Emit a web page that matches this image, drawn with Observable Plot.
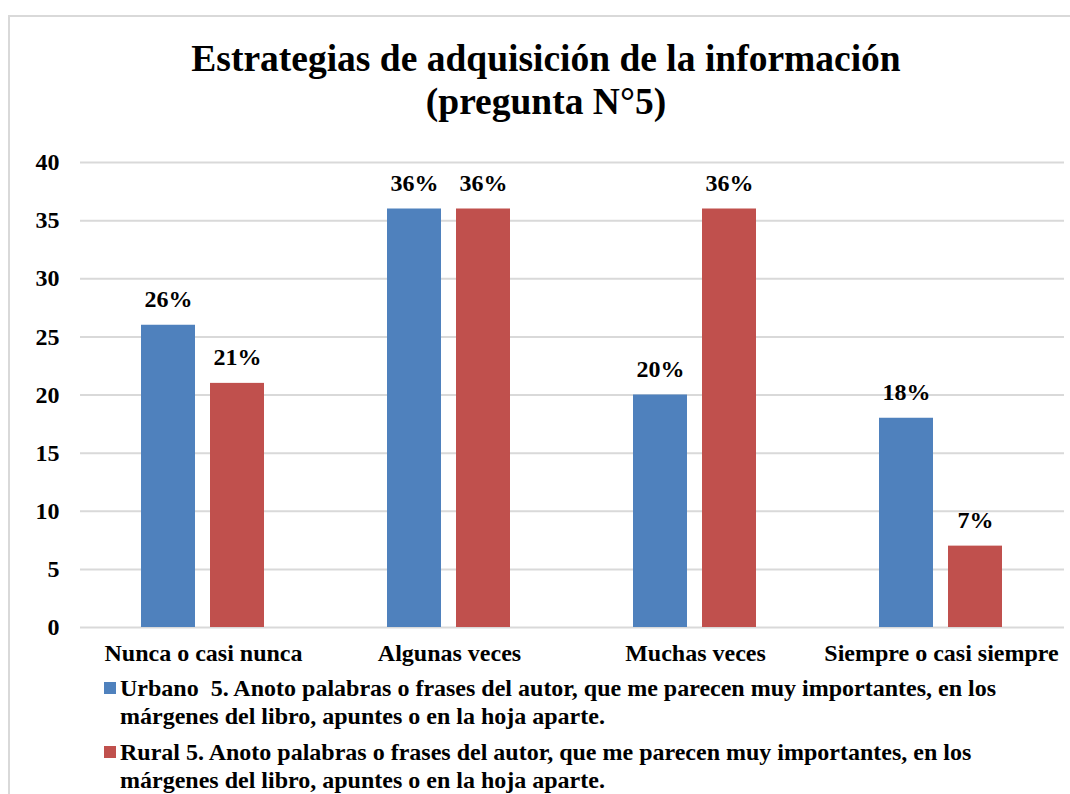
<!DOCTYPE html>
<html>
<head>
<meta charset="utf-8">
<script src="https://cdn.jsdelivr.net/npm/d3@7"></script>
<script src="https://cdn.jsdelivr.net/npm/@observablehq/plot@0.6"></script>
<style>
  html, body { margin: 0; padding: 0; background: #fff; overflow: hidden; width: 1070px; height: 794px; }
  #wrap { position: relative; width: 1070px; height: 794px; font-family: "Liberation Serif", "Times New Roman", serif; font-weight: bold; color: #000; }
  #border { position: absolute; left: 8px; top: 15px; width: 1100px; height: 900px; border: 2px solid #d9d9d9; box-sizing: border-box; }
  #title { position: absolute; left: 0; top: 37px; width: 1092px; text-align: center; font-size: 37.5px; line-height: 43px; }
  #chart { position: absolute; left: 0; top: 140px; }
  .leg { position: absolute; left: 104px; font-size: 24px; line-height: 28px; }
  .leg .sw { position: absolute; left: 0; top: 8px; width: 12px; height: 12px; }
  .leg .tx { margin-left: 16px; white-space: nowrap; }
</style>
</head>
<body>
<div id="wrap">
  <div id="border"></div>
  <div id="title">Estrategias de adquisición de la información<br>(pregunta N°5)</div>
  <div id="chart"></div>
  <div class="leg" id="leg1" style="top:674px"></div>
  <div class="leg" id="leg2" style="top:738px"></div>
</div>
<script>
const categories = ["Nunca o casi nunca", "Algunas veces", "Muchas veces", "Siempre o casi siempre"];
const series = ["Urbano", "Rural"];
const urbano = [26, 36, 20, 18];
const rural = [21, 36, 36, 7];
const colors = ["#4F81BD", "#C0504D"];
const yTicks = [0, 5, 10, 15, 20, 25, 30, 35, 40];
const legendLines = [
  ["Urbano\u00a0 5. Anoto palabras o frases del autor, que me parecen muy importantes, en los", "márgenes del libro, apuntes o en la hoja aparte."],
  ["Rural 5. Anoto palabras o frases del autor, que me parecen muy importantes, en los", "márgenes del libro, apuntes o en la hoja aparte."]
];

const data = [];
categories.forEach((c, i) => {
  data.push({cat: c, serie: series[0], v: urbano[i]});
  data.push({cat: c, serie: series[1], v: rural[i]});
});

const chart = Plot.plot({
  width: 1070,
  height: 527,
  marginTop: 22,
  marginBottom: 40,
  marginLeft: 78,
  marginRight: 5,
  style: {fontFamily: "Liberation Serif, Times New Roman, serif", fontSize: "24px", fontWeight: "bold", color: "#000", background: "transparent", overflow: "visible"},
  fx: {domain: categories, padding: 0, label: null, tickSize: 0, tickPadding: 16, axis: "bottom"},
  x: {domain: series, paddingInner: 0.214, paddingOuter: 0.87, axis: null},
  y: {domain: [0, 40], ticks: yTicks, label: null, tickSize: 0, tickPadding: 21, grid: false},
  color: {domain: series, range: colors},
  marks: [
    Plot.ruleY(yTicks, {stroke: "#d9d9d9", strokeWidth: 2}),
    Plot.barY(data, {fx: "cat", x: "serie", y: "v", fill: "serie"}),
    Plot.text(data, {fx: "cat", x: "serie", y: "v", text: d => d.v + "%", dy: -26, fontSize: 24, fontWeight: "bold", fill: "#000"})
  ]
});
document.getElementById("chart").appendChild(chart);

[["leg1", 0], ["leg2", 1]].forEach(([id, i]) => {
  const el = document.getElementById(id);
  const sw = document.createElement("div");
  sw.className = "sw";
  sw.style.background = colors[i];
  el.appendChild(sw);
  const tx = document.createElement("div");
  tx.className = "tx";
  tx.innerHTML = legendLines[i].join("<br>");
  el.appendChild(tx);
});
</script>
</body>
</html>
